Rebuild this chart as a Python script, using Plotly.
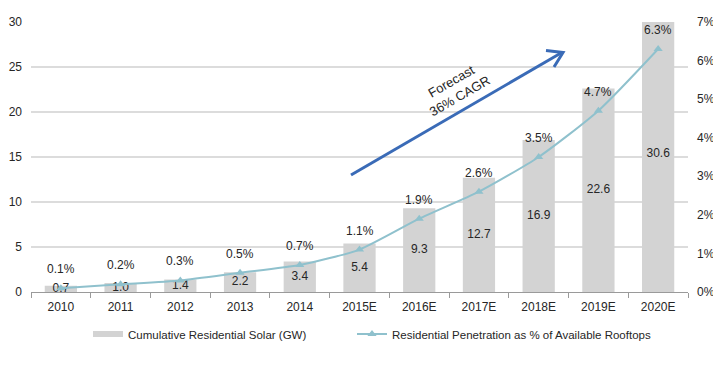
import plotly.graph_objects as go

categories = ["2010", "2011", "2012", "2013", "2014", "2015E", "2016E", "2017E", "2018E", "2019E", "2020E"]
solar_gw = [0.7, 1.0, 1.4, 2.2, 3.4, 5.4, 9.3, 12.7, 16.9, 22.6, 30.6]
penetration_pct = [0.1, 0.2, 0.3, 0.5, 0.7, 1.1, 1.9, 2.6, 3.5, 4.7, 6.3]
left_ticks = [0, 5, 10, 15, 20, 25, 30]
right_ticks = [0, 1, 2, 3, 4, 5, 6, 7]

FONT = "Liberation Sans, Arial, sans-serif"
TXT = "#262626"
BAR = "#d3d3d3"
LINE = "#8fc1cd"
ARROW = "#3a6bb7"

# page has an 8px body margin; figure sized so it fills the 721x365 window
OFF = 8
W, H = 721 - OFF, 365 - OFF
ML, MR, MT, MB = 31 - OFF, 33, 22 - OFF, 73
PW, PH = W - ML - MR, H - MT - MB

def px(x):  # page pixel -> paper
    return (x - (ML + OFF)) / PW

def py(y):
    return ((MT + OFF + PH) - y) / PH

fig = go.Figure()
fig.add_trace(go.Bar(
    x=categories, y=solar_gw, name="Cumulative Residential Solar (GW)",
    marker=dict(color=BAR, line=dict(width=0)), yaxis="y", showlegend=False,
))
fig.add_trace(go.Scatter(
    x=categories, y=[v / 2 for v in solar_gw], mode="text",
    text=[f"{v:.1f}" for v in solar_gw], textfont=dict(size=12, color=TXT, family=FONT),
    showlegend=False, hoverinfo="skip", yaxis="y",
))
fig.add_trace(go.Scatter(
    x=categories, y=penetration_pct, name="Residential Penetration as % of Available Rooftops",
    mode="lines+markers", line=dict(color=LINE, width=2, shape="spline", smoothing=0.6),
    marker=dict(symbol="triangle-up", size=8, color=LINE), yaxis="y2", legend="legend2",
))
# legend proxy for the bars (flat grey swatch, as in the reference)
fig.add_trace(go.Scatter(
    x=[None], y=[None], mode="lines", name="Cumulative Residential Solar (GW)",
    line=dict(color=BAR, width=6), legend="legend", hoverinfo="skip",
))

annotations = []
for i, v in enumerate(penetration_pct):
    annotations.append(dict(
        x=i, y=v, xref="x", yref="y2", text=f"{v:.1f}%", showarrow=False,
        yshift=19, font=dict(size=12, color=TXT, family=FONT),
    ))
annotations.append(dict(
    x=px(455), y=py(89), xref="paper", yref="paper", text="Forecast<br>36% CAGR",
    showarrow=False, textangle=-30, font=dict(size=13, color=TXT, family=FONT),
    xanchor="center", yanchor="middle",
))

shapes = [
    dict(type="path", xref="paper", yref="paper",
         path=f"M {px(351)} {py(175)} L {px(561)} {py(53)}",
         line=dict(color=ARROW, width=3)),
    dict(type="path", xref="paper", yref="paper",
         path=f"M {px(546)} {py(50.5)} L {px(563)} {py(52.5)} L {px(554)} {py(67)}",
         line=dict(color=ARROW, width=3)),
]

leg_font = dict(size=11.5, color=TXT, family=FONT)
fig.update_layout(
    width=W, height=H,
    margin=dict(l=ML, r=MR, t=MT, b=MB, autoexpand=False),
    paper_bgcolor="white", plot_bgcolor="white",
    font=dict(family=FONT, size=12, color=TXT),
    bargap=0.46,
    showlegend=True,
    legend=dict(orientation="h", x=px(88), xanchor="left", y=py(334), yanchor="middle",
                font=leg_font, itemwidth=30, bgcolor="rgba(0,0,0,0)"),
    legend2=dict(orientation="h", x=px(352), xanchor="left", y=py(334), yanchor="middle",
                 font=leg_font, itemwidth=30, bgcolor="rgba(0,0,0,0)"),
    xaxis=dict(type="category", range=[-0.5, len(categories) - 0.5],
               showgrid=False, showline=True, linecolor="#9a9a9a", linewidth=1,
               ticks="outside", tickson="boundaries", ticklen=5, tickcolor="#9a9a9a",
               tickangle=0, ticklabelstandoff=4, tickfont=dict(size=12, color=TXT, family=FONT)),
    yaxis=dict(range=[0, 30], tickvals=left_ticks, showgrid=True, gridcolor="#dcdcdc", gridwidth=1.5,
               zeroline=False, showline=False, ticks="", ticklabelstandoff=8,
               tickfont=dict(size=12, color=TXT, family=FONT)),
    yaxis2=dict(range=[0, 7], tickvals=right_ticks, ticktext=[f"{t}%" for t in right_ticks],
                overlaying="y", side="right", showgrid=False, zeroline=False, showline=False,
                ticks="", ticklabelstandoff=8, tickfont=dict(size=12, color=TXT, family=FONT)),
    annotations=annotations,
    shapes=shapes,
)

fig.write_html("out.html")
